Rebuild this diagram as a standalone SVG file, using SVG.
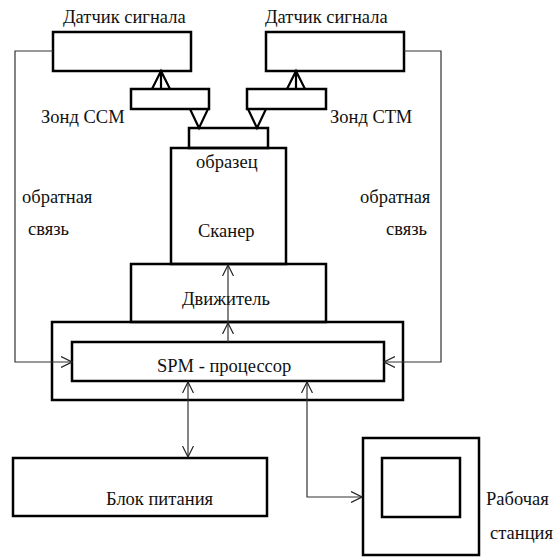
<svg xmlns="http://www.w3.org/2000/svg" width="557" height="557" viewBox="0 0 557 557">
<defs>
<style>
.box{fill:none;stroke:#000;stroke-width:2.5}
.wire{fill:none;stroke:#333;stroke-width:1.2}
.tip{fill:none;stroke:#000;stroke-width:2.2;stroke-linejoin:miter}
.t{font-family:'Liberation Serif','Times New Roman',serif;font-size:18.5px;fill:#111}
</style>
<marker id="ah" viewBox="0 0 12 12" refX="11" refY="6" markerWidth="12" markerHeight="12" markerUnits="userSpaceOnUse" orient="auto-start-reverse">
<path d="M0,0.5 L11,6 L0,11.5" fill="none" stroke="#222" stroke-width="1.2"/>
</marker>
</defs>
<rect width="557" height="557" fill="#fff"/>
<g id="sensor-left">
<rect class="box" x="53" y="32" width="138" height="39"/>
<text class="t" x="63" y="23">Датчик сигнала</text>
</g>
<g id="sensor-right">
<rect class="box" x="266" y="32" width="138" height="39"/>
<text class="t" x="265" y="23">Датчик сигнала</text>
</g>
<g id="probe-ccm">
<rect class="box" x="131" y="89" width="78" height="20"/>
<path class="tip" d="M152,89 L161,71 L170,89 M161,71 L161,89"/>
<path class="tip" d="M190,109 L199,128 L208,109"/>
<text class="t" x="41" y="123">Зонд ССМ</text>
</g>
<g id="probe-ctm">
<rect class="box" x="247" y="89" width="79" height="20"/>
<path class="tip" d="M287,89 L296,71 L305,89 M296,71 L296,89"/>
<path class="tip" d="M248,109 L257,128 L266,109"/>
<text class="t" x="330" y="123">Зонд СТМ</text>
</g>
<g id="sample">
<rect class="box" x="189" y="128" width="79" height="20"/>
</g>
<g id="scanner">
<rect class="box" x="171" y="148" width="115" height="116"/>
<text class="t" x="196" y="168">образец</text>
<text class="t" x="198" y="237">Сканер</text>
</g>
<g id="drive">
<rect class="box" x="131" y="264" width="195" height="58"/>
<text class="t" x="182" y="305">Движитель</text>
</g>
<g id="spm-outer">
<rect class="box" x="52" y="322" width="351" height="78"/>
</g>
<g id="spm-processor">
<rect class="box" x="72" y="342" width="312" height="39"/>
<text class="t" x="157" y="372">SPM - процессор</text>
</g>
<g id="power">
<rect class="box" x="13" y="458" width="254" height="58"/>
<text class="t" x="106" y="505">Блок питания</text>
</g>
<g id="workstation">
<rect class="box" x="363" y="438" width="116" height="117"/>
<rect class="box" x="382" y="458" width="78" height="59"/>
<text class="t" x="486" y="505">Рабочая</text>
<text class="t" x="490" y="539">станция</text>
</g>
<g id="labels">
<text class="t" x="22" y="203">обратная</text>
<text class="t" x="28" y="235">связь</text>
<text class="t" x="360" y="203">обратная</text>
<text class="t" x="386" y="235">связь</text>
</g>
<g id="connectors">
<polyline class="wire" points="53,51 15,51 15,362 72,362" marker-end="url(#ah)"/>
<polyline class="wire" points="404,51 441,51 441,362 384,362" marker-end="url(#ah)"/>
<line class="wire" x1="228" y1="342" x2="228" y2="323" marker-end="url(#ah)"/>
<line class="wire" x1="228" y1="323" x2="228" y2="265" marker-end="url(#ah)"/>
<line class="wire" x1="188" y1="382" x2="188" y2="457" marker-start="url(#ah)" marker-end="url(#ah)"/>
<polyline class="wire" points="307,382 307,497 362,497" marker-start="url(#ah)" marker-end="url(#ah)"/>
</g>
</svg>
